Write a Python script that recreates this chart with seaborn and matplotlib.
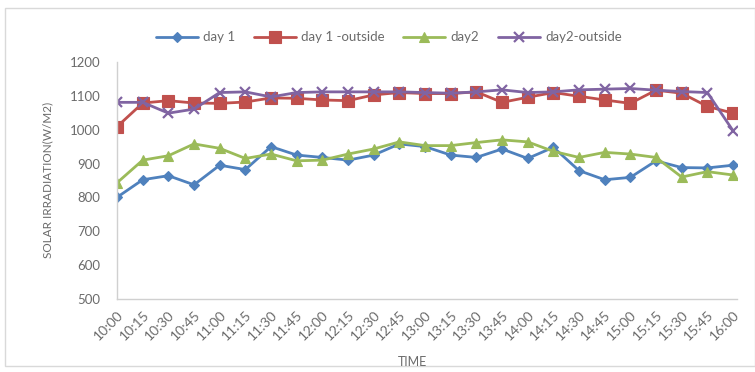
import matplotlib
matplotlib.use("Agg")
import matplotlib.pyplot as plt
from matplotlib.patches import Rectangle
import seaborn as sns
import pandas as pd

times = ["10:00", "10:15", "10:30", "10:45", "11:00", "11:15", "11:30", "11:45",
         "12:00", "12:15", "12:30", "12:45", "13:00", "13:15", "13:30", "13:45",
         "14:00", "14:15", "14:30", "14:45", "15:00", "15:15", "15:30", "15:45",
         "16:00"]

day1 = [800, 852, 864, 837, 895, 882, 950, 925, 918, 910, 925, 958, 950,
        925, 918, 943, 915, 948, 879, 852, 859, 908, 888, 887, 895]
day1_outside = [1009, 1079, 1086, 1079, 1078, 1082, 1094, 1093, 1088, 1086, 1103, 1110, 1107,
                1107, 1112, 1081, 1096, 1110, 1099, 1088, 1078, 1117, 1108, 1069, 1049]
day2 = [843, 910, 923, 958, 945, 915, 928, 908, 910, 928, 943, 964, 953,
        953, 962, 970, 964, 936, 918, 933, 928, 918, 860, 876, 866]
day2_outside = [1081, 1081, 1049, 1061, 1110, 1112, 1097, 1110, 1112, 1112, 1112, 1112, 1110,
                1108, 1112, 1118, 1110, 1112, 1118, 1120, 1122, 1117, 1113, 1110, 997]

series_names = ["day 1", "day 1 -outside", "day2", "day2-outside"]
series_values = [day1, day1_outside, day2, day2_outside]
colors = ["#4F81BD", "#C0504D", "#9BBB59", "#8064A2"]
markers = ["D", "s", "^", "x"]
marker_sizes = [5.5, 8, 7, 7]

sns.set_style("white")
plt.rcParams["font.family"] = ["Lato", "DejaVu Sans"]
text_gray = "#6b6b6b"

fig = plt.figure(figsize=(7.55, 3.72), dpi=100)
ax = fig.add_axes([0.155, 0.197, 0.821, 0.636])

pos = list(range(len(times)))
for name, vals, c, m, ms in zip(series_names, series_values, colors, markers, marker_sizes):
    df = pd.DataFrame({"t": pos, "v": vals})
    sns.lineplot(data=df, x="t", y="v", ax=ax, color=c, marker=m, markersize=ms,
                 markeredgecolor=c, markeredgewidth=1.6 if m == "x" else 0.8,
                 linewidth=2.0, label=name)

ax.set_xlim(0, 24.15)
ax.set_ylim(500, 1200)
ax.set_yticks(range(500, 1201, 100))
ax.set_xticks(pos)
ax.set_xticklabels(times, rotation=45, ha="right", rotation_mode="anchor")
ax.tick_params(axis="both", length=0, colors=text_gray)
ax.tick_params(axis="x", pad=7, labelsize=10)
ax.tick_params(axis="y", pad=12, labelsize=9.5)

for side in ["top", "right"]:
    ax.spines[side].set_visible(False)
for side in ["left", "bottom"]:
    ax.spines[side].set_color("#d0d0d0")
    ax.spines[side].set_linewidth(1.0)

ax.set_xlabel("")
ax.set_ylabel("SOLAR IRRADIATION(W/M2)", color=text_gray, fontsize=8.5, labelpad=12)
fig.text(0.546, 0.027, "TIME", color=text_gray, fontsize=9, ha="center", va="center")

handles, labels = ax.get_legend_handles_labels()
ax.get_legend().remove()
fig.legend(handles, labels, loc="center", bbox_to_anchor=(0.515, 0.9), ncol=4,
           frameon=False, fontsize=9.5, labelcolor=text_gray, handlelength=3.2,
           columnspacing=1.4, handletextpad=0.4)

# chart frame
fig.patches.append(Rectangle((0.007, 0.016), 0.993, 0.962, transform=fig.transFigure,
                             fill=False, edgecolor="#d9d9d9", linewidth=1.0))

fig.savefig("out.png", dpi=100)
